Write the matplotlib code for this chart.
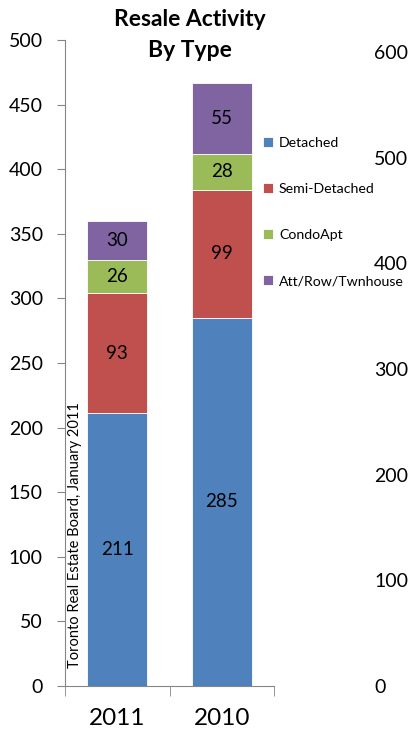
import matplotlib.pyplot as plt
import numpy as np

plt.rcParams['font.family'] = ['Lato', 'DejaVu Sans']

years = ['2011', '2010']
types = ['Detached', 'Semi-Detached', 'CondoApt', 'Att/Row/Twnhouse']
detached = [211, 285]
semi = [93, 99]
condo = [26, 28]
att = [30, 55]
colors = ['#4F81BD', '#C0504D', '#9BBB59', '#8064A2']

W, H = 409, 743
fig = plt.figure(figsize=(W / 100, H / 100), dpi=100)
ax = fig.add_axes([65 / W, (H - 686) / H, (274 - 65) / W, (686 - 40) / H])

x = np.arange(len(years))
bottom = np.zeros(len(years))
handles = []
for vals, c, name in zip([detached, semi, condo, att], colors, types):
    b = ax.bar(x, vals, 0.57, bottom=bottom, color=c, edgecolor='white', linewidth=0.6, label=name)
    for xi, v, bt in zip(x, vals, bottom):
        ax.text(xi, bt + v / 2, str(v), ha='center', va='center', fontsize=13.5, color='black')
    bottom += vals
    handles.append(b)

ax.set_xlim(-0.5, 1.5)
ax.set_ylim(0, 500)
ax.set_yticks(range(0, 501, 50))
ax.tick_params(axis='y', labelsize=14, length=6, color='#868686', pad=10)
ax.set_xticks(x)
ax.set_xticklabels(years, fontsize=17.5)
ax.tick_params(axis='x', length=0, pad=16)
ax.set_xticks([-0.5, 0.5, 1.5], minor=True)
ax.tick_params(axis='x', which='minor', length=7, color='#868686')
for s in ['top', 'right']:
    ax.spines[s].set_visible(False)
ax.spines['left'].set_color('#868686')
ax.spines['bottom'].set_color('#868686')

# right-hand axis labels
ax2 = ax.twinx()
ax2.set_ylim(0, 600 * 646 / 634)
ax2.set_yticks(range(0, 601, 100))
ax2.tick_params(axis='y', labelsize=14, length=0, pad=72)
for s in ax2.spines.values():
    s.set_visible(False)

ax.text(-0.4, 14, 'Toronto Real Estate Board, January 2011', rotation=90,
        ha='center', va='bottom', fontsize=10.5)

fig.text(190 / W, 1 - 35 / H, 'Resale Activity\nBy Type', ha='center', va='center',
         fontsize=16.5, fontweight='bold', linespacing=1.55)

fig.legend(handles[:], types, loc='upper left', bbox_to_anchor=(257 / W, 1 - 131 / H),
           frameon=False, fontsize=10.2, handlelength=0.75, handleheight=0.75,
           handletextpad=0.4, labelspacing=2.4, borderaxespad=0)

fig.savefig('out.png', dpi=100)
